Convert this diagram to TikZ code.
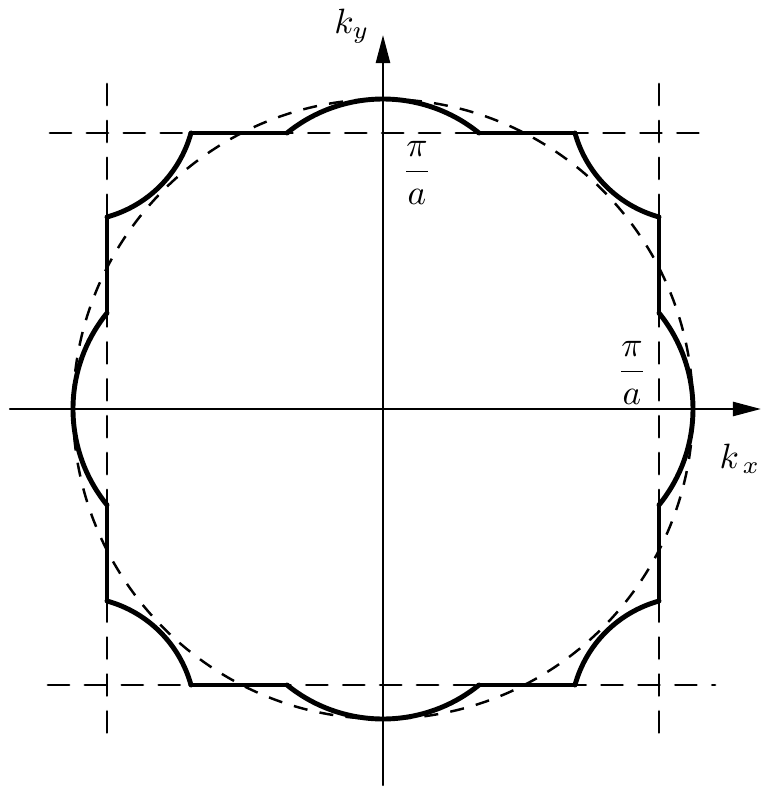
\documentclass[tikz,border=0pt]{standalone}
\usetikzlibrary{arrows,arrows.meta,calc}
\usepackage{tkz-euclide}
\tikzset{fermi/.style={line width=1.4pt,color=black,line cap=round,line join=round},
  zoneline/.style={line width=0.8pt,color=black,dash pattern=on 6pt off 4.5pt},
  freecircle/.style={line width=0.7pt,color=black,dash pattern=on 4pt off 3.5pt},
  kaxis/.style={line width=0.7pt,color=black,-{Triangle[length=8pt,width=4pt]}}}

\begin{document}
\begin{tikzpicture}
\useasboundingbox (-3.83,-3.81) rectangle (3.81,4.09);
\tkzSetUpLine[line width=1.4pt,color=black]

\tkzDefPoints{0/0/O,-3.73/0/Xl,3.78/0/Xr,0/-3.76/Yb,0/3.74/Yt,3.10/0/C}
\tkzDefPoints{-2.76/3.25/L1,-2.76/-3.39/L2,2.76/3.25/R1,2.76/-3.39/R2}
\tkzDefPoints{-3.33/2.76/T1,3.29/2.76/T2,-3.35/-2.76/B1,3.32/-2.76/B2}
\tkzDefPoints{3.08/3.08/Q1,-3.08/3.08/Q2,-3.08/-3.08/Q3,3.08/-3.08/Q4}
\tkzDefPoints{1.575/0/Cr,0/1.575/Ct,-1.575/0/Cl,0/-1.575/Cb}
\tkzDefPoints{2.76/0.96/P1,2.76/1.92/P2,1.92/2.76/P3,0.96/2.76/P4}
\tkzDefPoints{-0.96/2.76/P5,-1.92/2.76/P6,-2.76/1.92/P7,-2.76/0.96/P8}
\tkzDefPoints{-2.76/-0.96/P9,-2.76/-1.92/P10,-1.92/-2.76/P11,-0.96/-2.76/P12}
\tkzDefPoints{0.96/-2.76/P13,1.92/-2.76/P14,2.76/-1.92/P15,2.76/-0.96/P16}

% zone boundaries and free electron circle
\tkzDrawSegments[zoneline](L1,L2 R1,R2 T1,T2 B1,B2)
\tkzDrawCircle[freecircle](O,C)

% axes
\tkzDrawSegments[kaxis](Xl,Xr Yb,Yt)

% Fermi surface
\tkzDrawSegments[fermi](P1,P2 P3,P4 P5,P6 P7,P8 P9,P10 P11,P12 P13,P14 P15,P16)
\tkzDrawArc[fermi](Q1,P3)(P2)
\tkzDrawArc[fermi](Q2,P7)(P6)
\tkzDrawArc[fermi](Q3,P11)(P10)
\tkzDrawArc[fermi](Q4,P15)(P14)
\tkzDrawArc[fermi](Cr,P16)(P1)
\tkzDrawArc[fermi](Ct,P4)(P5)
\tkzDrawArc[fermi](Cl,P8)(P9)
\tkzDrawArc[fermi](Cb,P12)(P13)

\node (ky) at (-0.31,3.83) {$k_y$};
\node (kx) at (3.57,-0.50) {$k_{\,x}$};
\node (pay) at (0.34,2.36) {$\displaystyle\frac{\pi}{a}$};
\node (pax) at (2.49,0.36) {$\displaystyle\frac{\pi}{a}$};

\end{tikzpicture}
\end{document}
